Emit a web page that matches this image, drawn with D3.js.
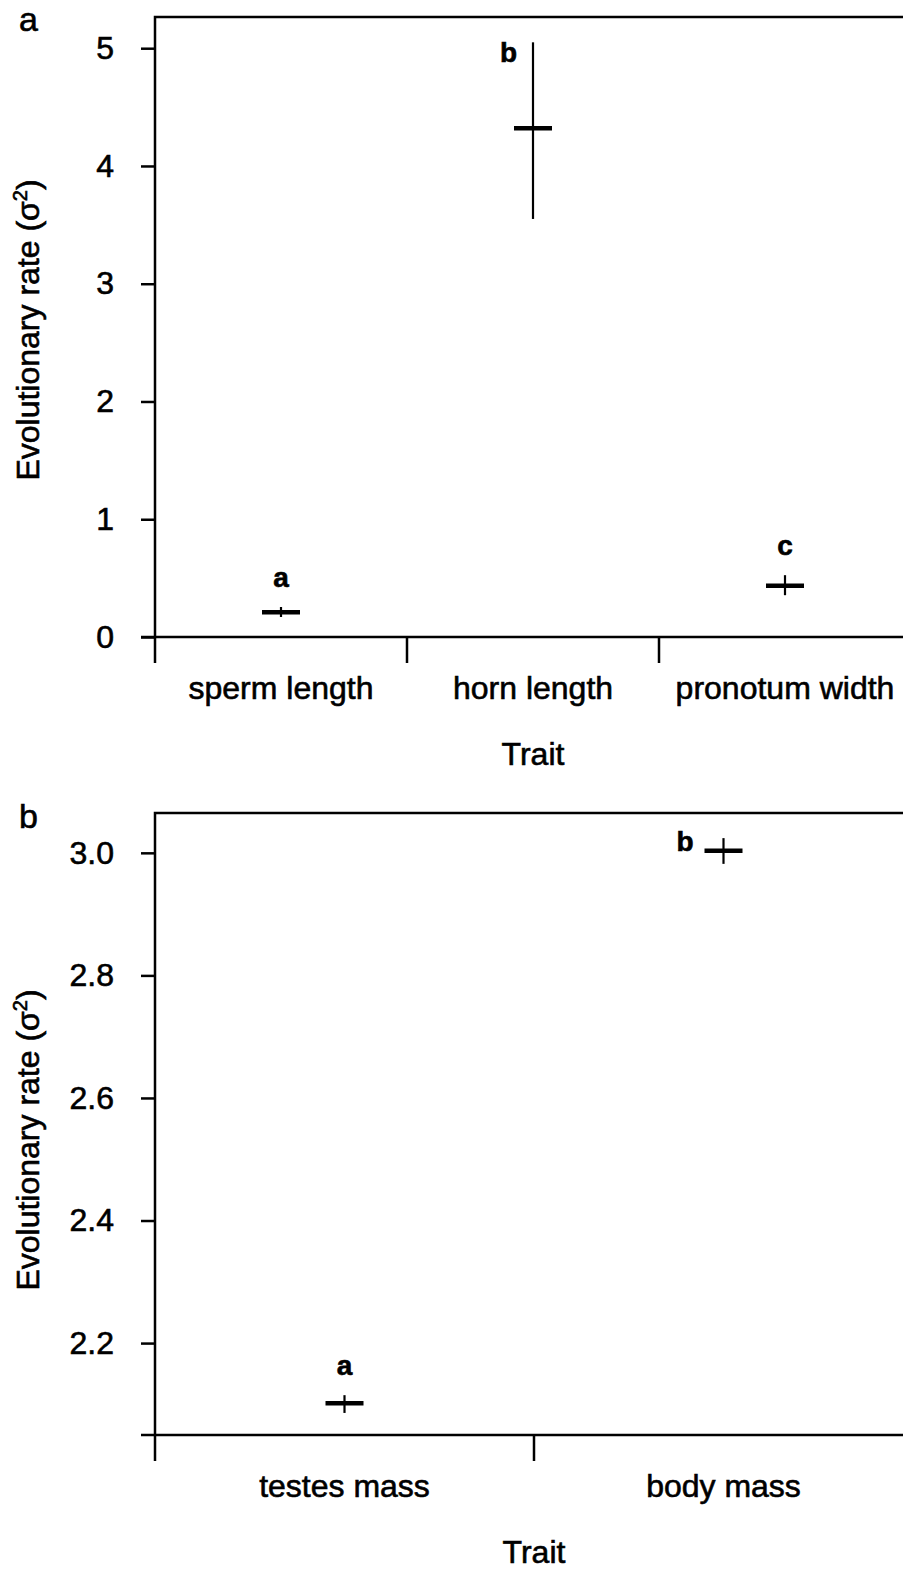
<!DOCTYPE html>
<html>
<head>
<meta charset="utf-8">
<script src="https://cdn.jsdelivr.net/npm/d3@7"></script>
<style>
  body { margin: 0; background: #fff; }
  svg text { font-family: "Liberation Sans", Arial, sans-serif; fill: #000; stroke: #000; stroke-width: 0.6px; }
</style>
</head>
<body>
<div id="chart"></div>
<script>
// Panel a data
const traitsA = ["sperm length", "horn length", "pronotum width"];
const meanA = [0.21, 4.32, 0.435];
const lowA = [0.17, 3.55, 0.355];
const highA = [0.255, 5.05, 0.525];
const lettersA = ["a", "b", "c"];
const ticksA = [0, 1, 2, 3, 4, 5];

// Panel b data
const traitsB = ["testes mass", "body mass"];
const meanB = [2.102, 3.0035];
const lowB = [2.086, 2.982];
const highB = [2.115, 3.024];
const lettersB = ["a", "b"];
const ticksB = [2.2, 2.4, 2.6, 2.8, 3.0];

const svg = d3.select("#chart").append("svg")
  .attr("width", 903)
  .attr("height", 1569);

function drawPanel(opt) {
  const g = svg.append("g");
  const x = d3.scaleBand().domain(opt.traits).range(opt.xRange);
  const y = d3.scaleLinear().domain(opt.yDomain).range(opt.yRange);
  const left = opt.xRange[0], top = opt.yRange[1], bottom = opt.yRange[0];

  // frame: top + left line
  g.append("path")
    .attr("d", `M${left},${bottom + 26} V${top} H${opt.xRange[1] + 10}`)
    .attr("fill", "none").attr("stroke", "#000").attr("stroke-width", 2.5);

  // y axis ticks and labels
  const yAxis = g.append("g").attr("transform", `translate(${left},0)`)
    .call(d3.axisLeft(y).tickValues(opt.yTicks).tickSize(14).tickPadding(27)
      .tickFormat(opt.tickFmt));
  yAxis.select(".domain").remove();
  yAxis.selectAll(".tick line").attr("stroke-width", 2.5);
  yAxis.selectAll(".tick text")
    .style("font-size", "32px").attr("font-family", null).attr("fill", null);

  // x axis line (extends left to y tick ends)
  g.append("line")
    .attr("x1", left - 14).attr("x2", opt.xRange[1] + 10)
    .attr("y1", bottom).attr("y2", bottom)
    .attr("stroke", "#000").attr("stroke-width", 2.5);

  // x ticks at category boundaries
  const bounds = opt.traits.map(t => x(t)).slice(1);
  g.selectAll(".xtick").data(bounds).enter().append("line")
    .attr("x1", d => d).attr("x2", d => d)
    .attr("y1", bottom).attr("y2", bottom + 26)
    .attr("stroke", "#000").attr("stroke-width", 2.5);

  // category labels
  g.selectAll(".cat").data(opt.traits).enter().append("text")
    .attr("x", d => x(d) + x.bandwidth() / 2)
    .attr("y", bottom + 62)
    .attr("text-anchor", "middle")
    .style("font-size", "32px")
    .text(d => d);

  // x title
  g.append("text")
    .attr("x", (opt.xRange[0] + opt.xRange[1]) / 2)
    .attr("y", bottom + 128)
    .attr("text-anchor", "middle")
    .style("font-size", "32px")
    .text("Trait");

  // y title
  g.append("text")
    .attr("transform", `translate(39,${opt.titleY}) rotate(-90)`)
    .attr("text-anchor", "middle")
    .style("font-size", "32px")
    .html("Evolutionary rate (σ<tspan dy='-12' style='font-size:20px'>2</tspan><tspan dy='12'>)</tspan>");

  // panel letter
  g.append("text")
    .attr("x", 19).attr("y", opt.letterY)
    .style("font-size", "34px")
    .text(opt.panel);

  // error bars
  const cx = d => x(opt.traits[d]) + x.bandwidth() / 2;
  const idx = d3.range(opt.traits.length);
  g.selectAll(".err").data(idx).enter().append("line")
    .attr("x1", cx).attr("x2", cx)
    .attr("y1", i => y(opt.high[i])).attr("y2", i => y(opt.low[i]))
    .attr("stroke", "#000").attr("stroke-width", 2.2);
  g.selectAll(".mean").data(idx).enter().append("line")
    .attr("x1", i => cx(i) - 19).attr("x2", i => cx(i) + 19)
    .attr("y1", i => y(opt.mean[i])).attr("y2", i => y(opt.mean[i]))
    .attr("stroke", "#000").attr("stroke-width", 4.5);

  // significance letters
  g.selectAll(".lett").data(idx).enter().append("text")
    .attr("x", i => {
      const p = opt.place[i];
      return p === "above" ? cx(i) : cx(i) - p;
    })
    .attr("y", i => opt.place[i] === "above" ? y(opt.high[i]) - 20
      : (opt.placeAt[i] === "high" ? y(opt.high[i]) + 20 : y(opt.mean[i])))
    .attr("text-anchor", i => opt.place[i] === "above" ? "middle" : "end")
    .style("font-size", "28px")
    .style("font-weight", "bold")
    .text(i => opt.letters[i]);
}

drawPanel({
  panel: "a", traits: traitsA, mean: meanA, low: lowA, high: highA, letters: lettersA,
  xRange: [155, 911], yDomain: [0, 5.265], yRange: [637, 17], yTicks: ticksA,
  tickFmt: d3.format("d"), titleY: 330, letterY: 31,
  place: ["above", 16, "above"], placeAt: [null, "high", null]
});

drawPanel({
  panel: "b", traits: traitsB, mean: meanB, low: lowB, high: highB, letters: lettersB,
  xRange: [155, 913], yDomain: [2.05, 3.065], yRange: [1435, 813], yTicks: ticksB,
  tickFmt: d3.format(".1f"), titleY: 1140, letterY: 828,
  place: ["above", 30], placeAt: [null, "mean"]
});
</script>
</body>
</html>
